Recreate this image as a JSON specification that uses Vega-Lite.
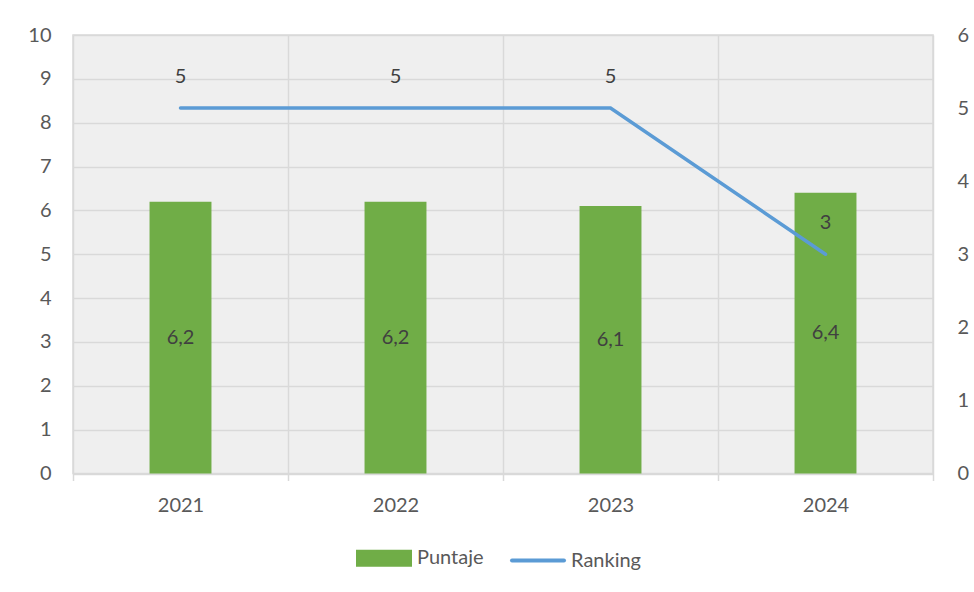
{
  "$schema": "https://vega.github.io/schema/vega-lite/v6.json",
  "width": 860,
  "height": 438.5,
  "autosize": "none",
  "padding": {"left": 73, "top": 35, "right": 41, "bottom": 118.5},
  "background": "white",
  "data": {
    "values": [
      {"year": "2021", "Puntaje": 6.2, "Ranking": 5, "PLabel": "6,2"},
      {"year": "2022", "Puntaje": 6.2, "Ranking": 5, "PLabel": "6,2"},
      {"year": "2023", "Puntaje": 6.1, "Ranking": 5, "PLabel": "6,1"},
      {"year": "2024", "Puntaje": 6.4, "Ranking": 3, "PLabel": "6,4"}
    ]
  },
  "encoding": {
    "x": {
      "field": "year",
      "type": "ordinal",
      "scale": {"paddingInner": 0, "paddingOuter": 0},
      "axis": {
        "title": null,
        "labelAngle": 0,
        "tickBand": "extent",
        "grid": true,
        "gridColor": "#d9d9d9",
        "gridWidth": 1.5,
        "domainColor": "#d9d9d9",
        "domainWidth": 1.5,
        "tickColor": "#d9d9d9",
        "tickWidth": 1.5,
        "tickSize": 7,
        "labelPadding": 15,
        "labelFontSize": 20,
        "labelColor": "#595959",
        "labelFont": "Lato"
      }
    }
  },
  "layer": [
    {
      "mark": {"type": "bar", "width": {"band": 0.288}},
      "encoding": {
        "y": {
          "field": "Puntaje",
          "type": "quantitative",
          "scale": {"domain": [0, 10]},
          "axis": {
            "orient": "left",
            "title": null,
            "values": [0, 1, 2, 3, 4, 5, 6, 7, 8, 9, 10],
            "grid": true,
            "gridColor": "#d9d9d9",
            "gridWidth": 1.5,
            "domain": false,
            "ticks": false,
            "labelPadding": 22,
            "labelFontSize": 20,
            "labelColor": "#595959",
            "labelFont": "Lato"
          }
        },
        "color": {
          "datum": "Puntaje",
          "type": "nominal",
          "scale": {"domain": ["Puntaje", "Ranking"], "range": ["#70AD47", "#5B9BD5"]},
          "legend": {
            "orient": "none",
            "legendX": 283,
            "legendY": 495,
            "direction": "horizontal",
            "title": null,
            "padding": 0,
            "symbolSize": 2704,
            "labelFontSize": 20,
            "labelFont": "Lato",
            "labelColor": "#595959",
            "labelOffset": 5,
            "columnPadding": 20,
            "encode": {
              "symbols": {
                "update": {
                  "shape": {"signal": "datum.value == 'Ranking' ? 'stroke' : 'M-1,-0.25H1V0.25H-1Z'"},
                  "fill": {"signal": "datum.value == 'Ranking' ? 'transparent' : '#70AD47'"},
                  "stroke": {"signal": "datum.value == 'Ranking' ? '#5B9BD5' : 'transparent'"},
                  "strokeWidth": {"value": 4},
                  "strokeCap": {"value": "round"},
                  "opacity": {"value": 1}
                }
              }
            }
          }
        }
      }
    },
    {
      "mark": {"type": "text", "fontSize": 20, "font": "Lato", "color": "#404040", "baseline": "middle"},
      "encoding": {
        "y": {"field": "Puntaje", "type": "quantitative", "scale": {"domain": [0, 20]}, "axis": null},
        "text": {"field": "PLabel"}
      }
    },
    {
      "mark": {"type": "line", "strokeWidth": 3.5, "strokeCap": "round"},
      "encoding": {
        "y": {
          "field": "Ranking",
          "type": "quantitative",
          "scale": {"domain": [0, 6]},
          "axis": {
            "orient": "right",
            "title": null,
            "values": [0, 1, 2, 3, 4, 5, 6],
            "grid": false,
            "domain": false,
            "ticks": false,
            "labelPadding": 24,
            "labelFontSize": 20,
            "labelColor": "#595959",
            "labelFont": "Lato"
          }
        },
        "color": {"datum": "Ranking", "type": "nominal"}
      }
    },
    {
      "mark": {"type": "text", "fontSize": 20, "font": "Lato", "color": "#404040", "baseline": "middle", "dy": -31},
      "encoding": {
        "y": {"field": "Ranking", "type": "quantitative", "scale": {"domain": [0, 6]}, "axis": null},
        "text": {"field": "Ranking", "type": "quantitative"}
      }
    }
  ],
  "resolve": {"scale": {"y": "independent"}},
  "config": {
    "font": "Lato",
    "view": {"fill": "#efefef", "stroke": "#d9d9d9", "strokeWidth": 1.5}
  }
}
